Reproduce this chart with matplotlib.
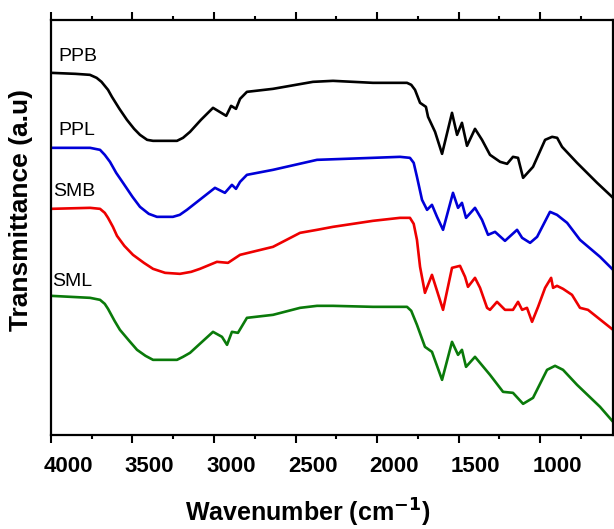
import matplotlib
matplotlib.use("Agg")
import matplotlib.pyplot as plt
from matplotlib.ticker import MultipleLocator
from matplotlib.transforms import ScaledTranslation

plt.rcParams['font.family'] = ['Liberation Sans', 'DejaVu Sans']

# FTIR spectra, stacked with vertical offsets (arbitrary units)
ppb_wn = [4000, 3850, 3761, 3720, 3690, 3650, 3626, 3580, 3534, 3490, 3454, 3410,
          3374, 3227, 3190, 3147, 3080, 3006, 2925, 2895, 2865, 2840, 2798, 2638,
          2393, 2270, 2025, 1816, 1790, 1767, 1736, 1700, 1687, 1644, 1601, 1540,
          1509, 1479, 1448, 1399, 1356, 1307, 1245, 1202, 1166, 1135, 1104, 1043,
          969, 926, 895, 865, 773, 650, 552]
ppb_t = [36.2, 36.1, 36.0, 35.7, 35.3, 34.5, 33.8, 32.6, 31.5, 30.6, 30.0, 29.5,
         29.4, 29.4, 29.7, 30.3, 31.5, 32.7, 31.9, 32.9, 32.6, 33.6, 34.3, 34.6,
         35.3, 35.4, 35.2, 35.2, 35.0, 34.5, 33.2, 32.8, 31.8, 30.3, 28.1, 32.2,
         30.0, 31.2, 28.9, 30.6, 29.5, 28.0, 27.3, 27.1, 27.8, 27.7, 25.7, 26.8,
         29.5, 29.8, 29.7, 28.8, 27.2, 25.2, 23.7]

ppl_wn = [4000, 3760, 3699, 3670, 3638, 3600, 3558, 3500, 3454, 3400, 3350, 3252,
          3210, 3166, 3080, 2994, 2933, 2890, 2865, 2840, 2798, 2638, 2368, 2025,
          1859, 1798, 1775, 1755, 1724, 1693, 1663, 1632, 1595, 1534, 1503, 1479,
          1454, 1399, 1356, 1319, 1276, 1215, 1141, 1110, 1061, 1018, 939, 896,
          834, 755, 632, 552]
ppl_t = [28.7, 28.7, 28.5, 28.0, 27.3, 26.2, 25.2, 23.8, 22.8, 22.1, 21.8, 21.8,
         22.0, 22.5, 23.6, 24.7, 24.2, 25.0, 24.6, 25.3, 26.0, 26.5, 27.5, 27.7,
         27.8, 27.7, 27.2, 25.8, 23.5, 22.5, 23.0, 21.8, 20.5, 24.2, 22.7, 23.2,
         21.7, 22.7, 21.5, 20.0, 20.3, 19.4, 20.5, 19.7, 19.2, 19.8, 22.3, 22.0,
         21.2, 19.5, 17.8, 16.5]

smb_wn = [4000, 3760, 3699, 3670, 3650, 3620, 3595, 3550, 3497, 3430, 3374, 3300,
          3209, 3140, 3086, 2982, 2914, 2840, 2638, 2472, 2368, 2270, 2025, 1859,
          1798, 1775, 1755, 1736, 1706, 1663, 1595, 1540, 1491, 1460, 1442, 1399,
          1368, 1325, 1307, 1264, 1215, 1166, 1135, 1110, 1080, 1049, 1012, 969,
          932, 920, 896, 859, 804, 755, 706, 552]
smb_t = [22.6, 22.7, 22.6, 22.2, 21.7, 20.8, 19.9, 18.9, 18.0, 17.2, 16.6, 16.2,
         16.1, 16.3, 16.6, 17.3, 17.2, 18.0, 18.8, 20.2, 20.5, 20.8, 21.4, 21.7,
         21.7, 21.1, 19.5, 16.8, 14.2, 16.0, 12.5, 16.7, 16.9, 15.8, 14.8, 15.7,
         14.7, 12.7, 12.5, 13.3, 12.5, 12.5, 13.3, 12.5, 12.7, 11.3, 12.8, 14.7,
         15.7, 14.7, 14.9, 14.6, 14.0, 12.7, 12.5, 10.5]

sml_wn = [4000, 3760, 3699, 3670, 3650, 3610, 3577, 3520, 3472, 3420, 3374, 3227,
          3190, 3147, 3080, 3006, 2951, 2920, 2890, 2853, 2798, 2638, 2472, 2368,
          2270, 2025, 1816, 1790, 1755, 1706, 1663, 1601, 1540, 1503, 1479, 1454,
          1399, 1307, 1227, 1166, 1104, 1043, 957, 908, 859, 773, 632, 552]
sml_t = [13.9, 13.7, 13.5, 13.1, 12.6, 11.4, 10.5, 9.4, 8.5, 7.9, 7.5, 7.5,
         7.8, 8.2, 9.2, 10.3, 9.8, 9.0, 10.3, 10.2, 11.7, 12.0, 12.7, 12.9,
         12.9, 12.8, 12.8, 12.4, 11.0, 8.8, 8.3, 5.5, 9.3, 8.0, 8.5, 6.8,
         7.8, 6.0, 4.3, 4.2, 3.1, 3.7, 6.5, 6.9, 6.5, 5.0, 2.8, 1.3]

samples = ['PPB', 'PPL', 'SMB', 'SML']
colors = ['black', '#0000d8', '#ee0000', '#0a7a0a']
series = [(ppb_wn, ppb_t), (ppl_wn, ppl_t), (smb_wn, smb_t), (sml_wn, sml_t)]
label_pos = [(3957, 37.8), (3957, 30.4), (3988, 24.3), (3994, 15.3)]

fig = plt.figure(figsize=(6.14, 5.29), dpi=100)
ax = fig.add_axes([0.083, 0.178, 0.9155, 0.7845])

for name, col, (wn, t), (lx, ly) in zip(samples, colors, series, label_pos):
    ax.plot(wn, t, color=col, lw=1.9, solid_joinstyle='round')
    ax.text(lx, ly, name, fontsize=14, ha='left', va='center')

ax.set_xlim(4000, 552)
ax.set_ylim(0, 41.5)
ax.xaxis.set_major_locator(MultipleLocator(500))
ax.xaxis.set_minor_locator(MultipleLocator(250))
ax.set_yticks([])
ax.tick_params(axis='x', which='both', direction='out', top=True, width=1.5)
ax.tick_params(axis='x', which='major', length=6, labelsize=16, pad=9)
ax.tick_params(axis='x', which='minor', length=3)
for sp in ax.spines.values():
    sp.set_linewidth(1.6)

# tick labels sit a little to the right of their ticks
shift = ScaledTranslation(0.17, 0, fig.dpi_scale_trans)
for lab in ax.get_xticklabels():
    lab.set_fontweight('bold')
    lab.set_transform(lab.get_transform() + shift)

ax.text(0.456, -0.21, 'Wavenumber (cm$^{\\mathbf{-1}}$)', transform=ax.transAxes,
        ha='center', va='baseline', fontsize=18, fontweight='bold')
ax.text(-0.053, 0.542, 'Transmittance (a.u)', transform=ax.transAxes,
        ha='center', va='center', rotation=90, fontsize=19, fontweight='bold')

fig.savefig('out.png', dpi=100)
